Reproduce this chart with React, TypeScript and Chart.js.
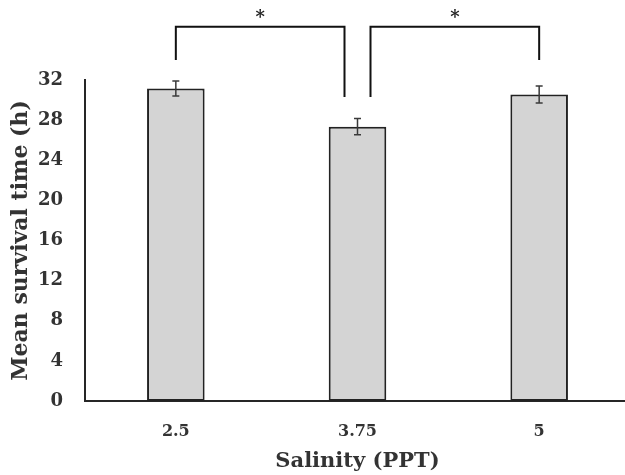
import React, { useEffect, useRef } from "react";
import { Chart, registerables } from "chart.js";

Chart.register(...registerables);

const categories = ["2.5", "3.75", "5"];
const meanSurvival = [31.15, 27.35, 30.55];
const errorValues = [0.75, 0.8, 0.85];
const yTicks = [0, 4, 8, 12, 16, 20, 24, 28, 32];
// significance brackets between categories
const bracketFrom = [0, 1];
const bracketTo = [1, 2];
const bracketFromOffset = [0, 13];
const bracketToOffset = [-13, 0];
const bracketFromBottom = [34.0, 30.3];
const bracketToBottom = [30.3, 34.0];
const bracketTop = 37.3;
const bracketLabel = "*";

const FONT = "'DejaVu Serif', serif";

const overlayPlugin = {
  id: "overlay",
  afterDatasetsDraw(chart: any) {
    const ctx = chart.ctx;
    const x = chart.scales.x;
    const y = chart.scales.y;
    ctx.save();
    // error bars
    ctx.strokeStyle = "#3a3a3a";
    ctx.lineWidth = 1.5;
    meanSurvival.forEach((v, i) => {
      const px = x.getPixelForValue(i);
      const top = y.getPixelForValue(v + errorValues[i]);
      const bot = y.getPixelForValue(v - errorValues[i]);
      ctx.beginPath();
      ctx.moveTo(px, top);
      ctx.lineTo(px, bot);
      ctx.moveTo(px - 3.5, top);
      ctx.lineTo(px + 3.5, top);
      ctx.moveTo(px - 3.5, bot);
      ctx.lineTo(px + 3.5, bot);
      ctx.stroke();
    });
    // brackets
    ctx.strokeStyle = "#111";
    ctx.lineWidth = 2;
    ctx.fillStyle = "#222";
    ctx.font = "bold 18px " + FONT;
    ctx.textAlign = "center";
    ctx.textBaseline = "middle";
    bracketFrom.forEach((fi, k) => {
      const ti = bracketTo[k];
      const x1 = x.getPixelForValue(fi) + bracketFromOffset[k];
      const x2 = x.getPixelForValue(ti) + bracketToOffset[k];
      const yt = y.getPixelForValue(bracketTop);
      const y1 = y.getPixelForValue(bracketFromBottom[k]);
      const y2 = y.getPixelForValue(bracketToBottom[k]);
      ctx.beginPath();
      ctx.moveTo(x1, y1);
      ctx.lineTo(x1, yt);
      ctx.lineTo(x2, yt);
      ctx.lineTo(x2, y2);
      ctx.stroke();
      ctx.fillText(bracketLabel, (x1 + x2) / 2, yt - 9);
    });
    ctx.restore();
  },
};

export default function App() {
  const ref = useRef<HTMLCanvasElement | null>(null);
  useEffect(() => {
    if (!ref.current) return;
    const chart = new Chart(ref.current, {
      type: "bar",
      data: {
        labels: categories,
        datasets: [
          {
            data: meanSurvival,
            backgroundColor: "#d4d4d4",
            borderColor: "#222",
            borderWidth: 2,
            borderSkipped: false,
            categoryPercentage: 1,
            barPercentage: 0.317,
          },
        ],
      },
      options: {
        animation: false,
        responsive: true,
        maintainAspectRatio: false,
        layout: { padding: { top: 80, left: 0, right: 0, bottom: 0 } },
        plugins: { legend: { display: false }, tooltip: { enabled: false } },
        scales: {
          x: {
            grid: { display: false },
            border: { display: true, color: "#262626", width: 2 },
            ticks: { color: "#333", font: { family: FONT, size: 16, weight: "bold" }, padding: 13 },
            title: {
              display: true,
              text: "Salinity (PPT)",
              color: "#333",
              font: { family: FONT, size: 21, weight: "bold" },
              padding: { top: 0, bottom: 1 },
            },
            afterFit(s: any) {
              s.height = 74;
            },
          },
          y: {
            min: 0,
            max: 32,
            afterBuildTicks(s: any) {
              s.ticks = yTicks.map((v) => ({ value: v }));
            },
            grid: { display: false },
            border: { display: true, color: "#262626", width: 2 },
            ticks: { color: "#333", font: { family: FONT, size: 18, weight: "bold" }, padding: 14 },
            title: {
              display: true,
              text: "Mean survival time (h)",
              color: "#333",
              font: { family: FONT, size: 22, weight: "bold" },
              padding: { top: 8, bottom: 0 },
            },
            afterFit(s: any) {
              s.width = 85;
            },
          },
        },
      },
      plugins: [overlayPlugin],
    });
    return () => chart.destroy();
  }, []);
  return (
    <div style={{ position: "fixed", left: 0, top: 0, width: 625, height: 475, overflow: "hidden", background: "#fff" }}>
      <div style={{ position: "relative", width: 630, height: 475 }}>
        <canvas ref={ref} />
      </div>
    </div>
  );
}
